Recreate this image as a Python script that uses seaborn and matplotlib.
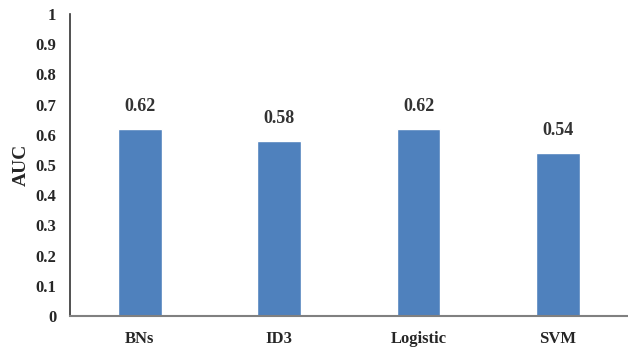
import matplotlib
matplotlib.use("Agg")
import matplotlib.pyplot as plt
import seaborn as sns
import pandas as pd

# data
models = ["BNs", "ID3", "Logistic", "SVM"]
auc = [0.62, 0.58, 0.62, 0.54]
yticks = [0, 0.1, 0.2, 0.3, 0.4, 0.5, 0.6, 0.7, 0.8, 0.9, 1]

df = pd.DataFrame({"model": models, "auc": auc})

sns.set_style("white")
plt.rcParams["font.family"] = ["Liberation Serif", "DejaVu Serif"]
plt.rcParams["font.weight"] = "bold"

fig = plt.figure(figsize=(6.28, 3.51), dpi=100)
ax = fig.add_axes([0.1115, 0.0997, 0.888, 0.8605])

sns.barplot(data=df, x="model", y="auc", color="#4F81BD", saturation=1,
            width=0.314, ax=ax)

for i, v in enumerate(auc):
    ax.text(i, v + 0.045, f"{v:.2f}", ha="center", va="bottom",
            fontsize=13, fontweight="bold", color="#333333")

ax.set_xlim(-0.5, 3.5)
ax.set_ylim(0, 1)
ax.set_yticks(yticks)
ax.set_yticklabels([f"{t:g}" for t in yticks], fontsize=12, fontweight="bold")
ax.set_xticklabels(models, fontsize=12, fontweight="bold")
ax.tick_params(axis="both", length=0, pad=10)
ax.tick_params(axis="x", pad=11)
ax.set_xlabel("")
ax.set_ylabel("AUC", fontsize=14, fontweight="bold", labelpad=4)

sns.despine(ax=ax)
ax.spines["left"].set_color("#333333")
ax.spines["left"].set_linewidth(1.2)
ax.spines["bottom"].set_color("#808080")
ax.spines["bottom"].set_linewidth(1.5)

fig.savefig("out.png", dpi=100)
